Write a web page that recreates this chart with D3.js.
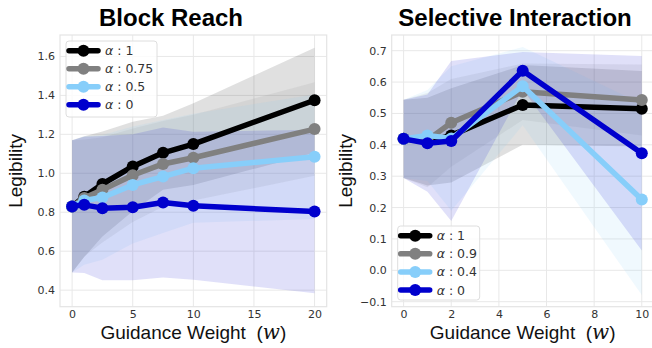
<!DOCTYPE html>
<html>
<head>
<meta charset="utf-8">
<script src="https://cdn.jsdelivr.net/npm/d3@7"></script>
<style>
  body { margin: 0; background: #fff; }
  svg { display: block; }
</style>
</head>
<body>
<svg id="chart" width="652" height="348"></svg>
<script>
// block reach panel
var brWeights = [0, 1, 2.5, 5, 7.5, 10, 20];
var brMean1   = [0.83, 0.88, 0.945, 1.035, 1.105, 1.15, 1.375];
var brMean075 = [0.83, 0.873, 0.915, 0.99, 1.048, 1.08, 1.227];
var brMean05  = [0.83, 0.86, 0.876, 0.94, 0.983, 1.026, 1.085];
var brMean0   = [0.83, 0.838, 0.821, 0.826, 0.85, 0.833, 0.804];
var brStd1    = [0.34, 0.31, 0.27, 0.23, 0.19, 0.21, 0.27];
var brStd075  = [0.34, 0.30, 0.27, 0.24, 0.22, 0.22, 0.24];
var brStd05   = [0.34, 0.33, 0.32, 0.30, 0.29, 0.28, 0.32];
var brStd0    = [0.34, 0.35, 0.37, 0.375, 0.385, 0.38, 0.42];
var brLabels  = ['1', '0.75', '0.5', '0'];

// selective interaction panel
var siWeights = [0, 1, 2, 5, 10];
var siMean1   = [0.419, 0.41, 0.43, 0.527, 0.515];
var siMean09  = [0.419, 0.415, 0.47, 0.569, 0.543];
var siMean04  = [0.419, 0.43, 0.42, 0.587, 0.226];
var siMean0   = [0.419, 0.405, 0.412, 0.636, 0.373];
var siStd1    = [0.125, 0.14, 0.15, 0.127, 0.12];
var siStd09   = [0.125, 0.15, 0.14, 0.09, 0.113];
var siStd04   = [0.125, 0.145, 0.23, 0.125, 0.305];
var siStd0    = [0.125, 0.155, 0.255, 0.06, 0.31];
var siLabels  = ['1', '0.9', '0.4', '0'];

var colors = ['#000000', '#808080', '#87cefa', '#0000cd'];

var svg = d3.select('#chart');

function drawPanel(opts) {
    var x = d3.scaleLinear().domain(opts.xDomain).range([opts.left, opts.right]);
    var y = d3.scaleLinear().domain(opts.yDomain).range([opts.bottom, opts.top]);
    var g = svg.append('g');

    // grid
    g.selectAll('.gx').data(opts.xTicks).enter().append('line')
      .attr('x1', function(d) { return x(d); })
      .attr('x2', function(d) { return x(d); })
      .attr('y1', opts.top).attr('y2', opts.bottom)
      .style('stroke', '#e8e8e8').style('stroke-width', 1);
    g.selectAll('.gy').data(opts.yTicks).enter().append('line')
      .attr('y1', function(d) { return y(d); })
      .attr('y2', function(d) { return y(d); })
      .attr('x1', opts.left).attr('x2', opts.right)
      .style('stroke', '#e8e8e8').style('stroke-width', 1);

    // frame
    g.append('rect')
      .attr('x', opts.left).attr('y', opts.top)
      .attr('width', opts.right - opts.left).attr('height', opts.bottom - opts.top)
      .style('fill', 'none').style('stroke', '#e4e4e4').style('stroke-width', 1.2);

    // axes (tick labels only)
    var xAxis = d3.axisBottom(x).tickValues(opts.xTicks).tickSize(0).tickPadding(4)
      .tickFormat(d3.format('d'));
    var xg = g.append('g').attr('transform', 'translate(0,' + opts.bottom + ')').call(xAxis);
    var yAxis = d3.axisLeft(y).tickValues(opts.yTicks).tickSize(0).tickPadding(5)
      .tickFormat(function(d) { return d3.format('.1f')(d).replace('-', '\u2212'); });
    var yg = g.append('g').attr('transform', 'translate(' + opts.left + ',0)').call(yAxis);
    [xg, yg].forEach(function(a) {
        a.select('.domain').remove();
        a.selectAll('text')
          .style('font-family', 'DejaVu Sans').style('font-size', '11px').style('fill', '#333');
    });

    // bands
    var area = d3.area()
      .x(function(d) { return x(d.w); })
      .y0(function(d) { return y(d.m - d.s); })
      .y1(function(d) { return y(d.m + d.s); });
    var clip = 'clip' + opts.id;
    svg.append('clipPath').attr('id', clip).append('rect')
      .attr('x', opts.left).attr('y', opts.top)
      .attr('width', opts.right - opts.left).attr('height', opts.bottom - opts.top);
    var pg = g.append('g').attr('clip-path', 'url(#' + clip + ')');

    var series = opts.means.map(function(m, i) {
        return opts.weights.map(function(w, j) {
            return {w: w, m: m[j], s: opts.stds[i][j]};
        });
    });
    series.forEach(function(s, i) {
        pg.append('path').datum(s).attr('d', area)
          .style('fill', colors[i]).style('fill-opacity', 0.12);
    });

    var line = d3.line()
      .x(function(d) { return x(d.w); })
      .y(function(d) { return y(d.m); });
    series.forEach(function(s, i) {
        pg.append('path').datum(s).attr('d', line)
          .style('fill', 'none').style('stroke', colors[i])
          .style('stroke-width', 5.5).style('stroke-linejoin', 'round');
        pg.selectAll('.dot' + i).data(s).enter().append('circle')
          .attr('cx', function(d) { return x(d.w); })
          .attr('cy', function(d) { return y(d.m); })
          .attr('r', 6)
          .style('fill', colors[i]);
    });

    // legend
    var lg = g.append('g');
    lg.append('rect')
      .attr('x', opts.legend.x).attr('y', opts.legend.y)
      .attr('width', opts.legend.w).attr('height', opts.legend.h)
      .attr('rx', 3)
      .style('fill', 'white').style('fill-opacity', 0.8)
      .style('stroke', '#dedede').style('stroke-width', 1);
    opts.labels.forEach(function(lab, i) {
        var ry = opts.legend.y + opts.legend.row0 + i * opts.legend.step;
        var lx = opts.legend.x + 3;
        lg.append('line')
          .attr('x1', lx).attr('x2', lx + 29).attr('y1', ry).attr('y2', ry)
          .style('stroke', colors[i]).style('stroke-width', 5.5).style('stroke-linecap', 'round');
        lg.append('circle').attr('cx', lx + 14.5).attr('cy', ry).attr('r', 6)
          .style('fill', colors[i]);
        var t = lg.append('text')
          .attr('x', lx + 36).attr('y', ry + 4.5)
          .style('font-family', 'DejaVu Sans').style('font-size', '12.5px').style('fill', '#333');
        t.append('tspan').style('font-style', 'italic').text('\u03b1');
        t.append('tspan').text('\u00a0: ' + lab);
    });

    // title and labels
    svg.append('text')
      .attr('x', opts.titleX).attr('y', 26)
      .attr('text-anchor', 'middle')
      .style('font-family', 'Liberation Sans').style('font-weight', 'bold')
      .style('font-size', '24px').style('fill', '#000')
      .text(opts.title);

    var xl = svg.append('text')
      .attr('x', (opts.left + opts.right) / 2).attr('y', 339)
      .attr('text-anchor', 'middle')
      .style('font-family', 'Liberation Sans').style('font-size', '19px').style('fill', '#111');
    xl.append('tspan').text('Guidance Weight\u00a0\u00a0(');
    xl.append('tspan').style('font-family', 'DejaVu Serif').style('font-style', 'italic')
      .style('font-size', '20px').text('w');
    xl.append('tspan').text(')');

    svg.append('text')
      .attr('transform', 'translate(' + opts.yLabelX + ',' + ((opts.top + opts.bottom) / 2) + ') rotate(-90)')
      .attr('text-anchor', 'middle')
      .style('font-family', 'Liberation Sans').style('font-size', '19px').style('fill', '#111')
      .text('Legibility');
}

drawPanel({
    id: 'br',
    left: 60, right: 326.7, top: 35, bottom: 306.7,
    xDomain: [-1, 21], yDomain: [0.315, 1.71],
    xTicks: [0, 5, 10, 15, 20],
    yTicks: [0.4, 0.6, 0.8, 1.0, 1.2, 1.4, 1.6],
    weights: brWeights,
    means: [brMean1, brMean075, brMean05, brMean0],
    stds: [brStd1, brStd075, brStd05, brStd0],
    labels: brLabels,
    legend: {x: 66, y: 41, w: 91, h: 76, row0: 9.7, step: 18},
    title: 'Block Reach', titleX: 171,
    yLabelX: 22
});

drawPanel({
    id: 'si',
    left: 391.7, right: 653.7, top: 35, bottom: 306.7,
    xDomain: [-0.5, 10.5], yDomain: [-0.116, 0.75],
    xTicks: [0, 2, 4, 6, 8, 10],
    yTicks: [-0.1, 0.0, 0.1, 0.2, 0.3, 0.4, 0.5, 0.6, 0.7],
    weights: siWeights,
    means: [siMean1, siMean09, siMean04, siMean0],
    stds: [siStd1, siStd09, siStd04, siStd0],
    labels: siLabels,
    legend: {x: 397.7, y: 226, w: 82, h: 74, row0: 9.7, step: 18.1},
    title: 'Selective Interaction', titleX: 515,
    yLabelX: 352
});
</script>
</body>
</html>
